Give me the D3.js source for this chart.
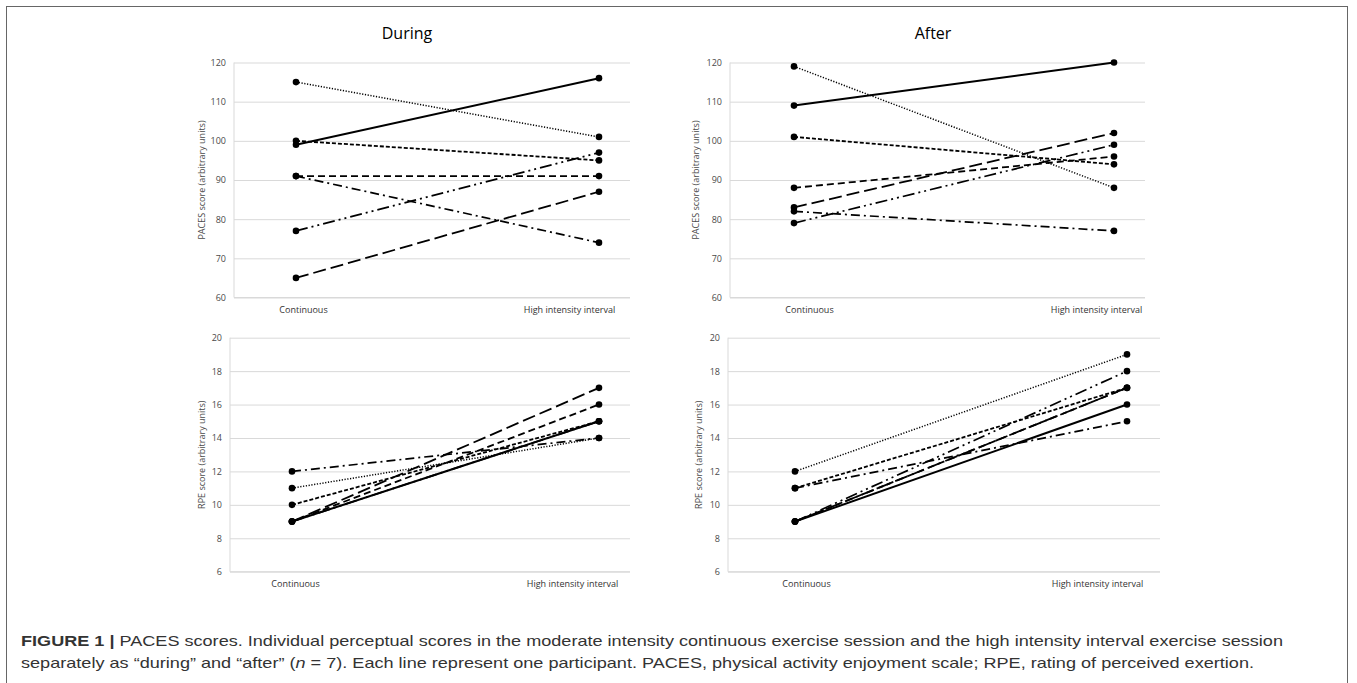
<!DOCTYPE html>
<html>
<head>
<meta charset="utf-8">
<script src="https://cdn.jsdelivr.net/npm/d3@7/dist/d3.min.js"></script>
<style>
  body { margin: 0; background: #fff; }
  svg { display: block; }
</style>
</head>
<body>
<svg id="fig" width="1357" height="683"></svg>
<script>
// categories and values, one pair per participant (continuous, HIIT)
var categories = ["Continuous", "High intensity interval"];
var pacesDuring = [[99, 116], [115, 101], [100, 95], [91, 91], [65, 87], [77, 97], [91, 74]];
var pacesAfter  = [[109, 120], [119, 88], [101, 94], [88, 96], [83, 102], [79, 99], [82, 77]];
var rpeDuring   = [[9, 15], [11, 14], [10, 15], [9, 16], [9, 17], [9, 15], [12, 14]];
var rpeAfter    = [[9, 16], [12, 19], [11, 17], [9, 17], [9, 17], [9, 18], [11, 15]];
var pacesTicks = [60, 70, 80, 90, 100, 110, 120];
var rpeTicks = [6, 8, 10, 12, 14, 16, 18, 20];
var captionLine1 = "PACES scores. Individual perceptual scores in the moderate intensity continuous exercise session and the high intensity interval exercise session";

// line style per participant: solid, dotted, short dash, dash, long dash, long dash dot dot, dash dot
var dashes = [null, "1.2,1.6", "4,2", "7,4", "13,5", "12,4,2,4,2,4", "9,4,2,4"];
var widths = [2, 1.5, 1.8, 1.8, 1.8, 1.7, 1.7];

var svg = d3.select("#fig");
var chartFont = "'Open Sans', 'Noto Sans', sans-serif";

// border around the figure
svg.append("rect")
    .attr("x", 6.5).attr("y", 6.5)
    .attr("width", 1341).attr("height", 700)
    .attr("fill", "none")
    .attr("stroke", "#666").attr("stroke-width", 1);

var panels = [
  { data: pacesDuring, ticks: pacesTicks, title: "During", titleX: 407,
    yLabel: "PACES score (arbitrary units)",
    left: 234, right: 630, top: 62.5, bottom: 297.5,
    pts: [296, 599], labs: [303, 569], labY: 311, yTitleX: 203 },
  { data: pacesAfter, ticks: pacesTicks, title: "After", titleX: 933,
    yLabel: "PACES score (arbitrary units)",
    left: 730, right: 1145, top: 62.5, bottom: 297.5,
    pts: [794, 1114], labs: [809, 1096], labY: 311, yTitleX: 697 },
  { data: rpeDuring, ticks: rpeTicks, title: null,
    yLabel: "RPE score (arbitrary units)",
    left: 230, right: 630, top: 337.7, bottom: 571.7,
    pts: [292, 599], labs: [295, 572], labY: 584.5, yTitleX: 203 },
  { data: rpeAfter, ticks: rpeTicks, title: null,
    yLabel: "RPE score (arbitrary units)",
    left: 728, right: 1160, top: 337.7, bottom: 571.7,
    pts: [795, 1127], labs: [806, 1097], labY: 585, yTitleX: 700 }
];

panels.forEach(function(p) {
    var g = svg.append("g");
    var y = d3.scaleLinear()
        .domain(d3.extent(p.ticks))
        .range([p.bottom, p.top]);
    var x = d3.scalePoint().domain(categories).range(p.pts).padding(0);
    var xl = d3.scalePoint().domain(categories).range(p.labs).padding(0);

    // gridlines + tick labels
    var yAxis = g.append("g")
        .attr("transform", "translate(" + p.left + ",0)")
        .call(d3.axisLeft(y).tickValues(p.ticks)
            .tickSize(-(p.right - p.left)).tickPadding(8));
    yAxis.select(".domain").remove();
    yAxis.selectAll(".tick line").attr("stroke", "#d9d9d9").attr("stroke-width", 1);
    yAxis.selectAll(".tick text")
        .attr("fill", "#4a4a4a")
        .style("font-family", chartFont).style("font-size", "9px");

    // axis lines (left + bottom)
    g.append("line")
        .attr("x1", p.left).attr("x2", p.left)
        .attr("y1", p.top).attr("y2", p.bottom)
        .attr("stroke", "#d9d9d9");
    g.append("line")
        .attr("x1", p.left).attr("x2", p.right)
        .attr("y1", p.bottom).attr("y2", p.bottom)
        .attr("stroke", "#d9d9d9");

    // category labels
    var xAxis = g.append("g")
        .attr("transform", "translate(0," + (p.labY - 10) + ")")
        .call(d3.axisBottom(xl).tickSize(0).tickPadding(6));
    xAxis.select(".domain").remove();
    xAxis.selectAll(".tick text")
        .attr("fill", "#333")
        .style("font-family", chartFont).style("font-size", "9px");

    // y title
    g.append("text")
        .attr("transform", "translate(" + p.yTitleX + "," + ((p.top + p.bottom) / 2) + ") rotate(-90)")
        .attr("text-anchor", "middle")
        .attr("dominant-baseline", "middle")
        .attr("fill", "#4a4a4a")
        .style("font-family", chartFont).style("font-size", "9px")
        .text(p.yLabel);

    if (p.title) {
        g.append("text")
            .attr("x", p.titleX).attr("y", 35)
            .attr("text-anchor", "middle")
            .attr("dominant-baseline", "middle")
            .attr("fill", "#000")
            .style("font-family", chartFont).style("font-size", "16px")
            .text(p.title);
    }

    var line = d3.line()
        .x(function(d, i) { return x(categories[i]); })
        .y(function(d) { return y(d); });

    g.selectAll("path.series").data(p.data).enter()
        .append("path")
        .attr("class", "series")
        .attr("d", function(d) { return line(d); })
        .attr("fill", "none")
        .attr("stroke", "#000")
        .attr("stroke-width", function(d, i) { return widths[i]; })
        .attr("stroke-dasharray", function(d, i) { return dashes[i]; });

    var pts = [];
    p.data.forEach(function(d) {
        d.forEach(function(v, i) { pts.push({ c: categories[i], v: v }); });
    });
    g.selectAll("circle").data(pts).enter()
        .append("circle")
        .attr("cx", function(d) { return x(d.c); })
        .attr("cy", function(d) { return y(d.v); })
        .attr("r", 3.3)
        .attr("fill", "#000");
});

// caption
var capFont = "'Liberation Sans', Arial, sans-serif";
var cap1 = svg.append("text")
    .attr("x", 21).attr("y", 646)
    .attr("fill", "#333")
    .attr("textLength", 1262).attr("lengthAdjust", "spacingAndGlyphs")
    .style("font-family", capFont).style("font-size", "14.5px");
cap1.append("tspan").attr("font-weight", "bold").text("FIGURE 1 | ");
cap1.append("tspan").text(captionLine1);

var cap2 = svg.append("text")
    .attr("x", 21).attr("y", 668)
    .attr("fill", "#333")
    .attr("textLength", 1233).attr("lengthAdjust", "spacingAndGlyphs")
    .style("font-family", capFont).style("font-size", "14.5px");
cap2.append("tspan").text("separately as \u201Cduring\u201D and \u201Cafter\u201D (");
cap2.append("tspan").attr("font-style", "italic").text("n");
cap2.append("tspan").text(" = 7). Each line represent one participant. PACES, physical activity enjoyment scale; RPE, rating of perceived exertion.");
</script>
</body>
</html>
